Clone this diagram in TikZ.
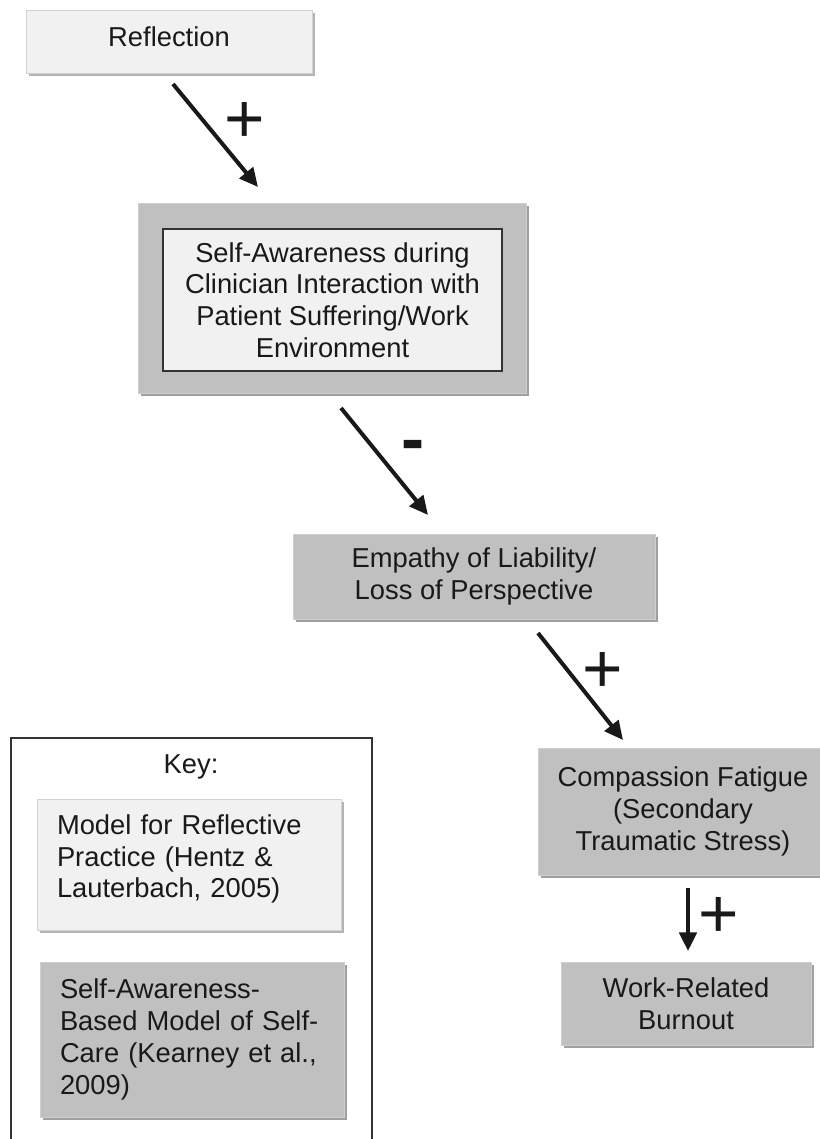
\documentclass[tikz,border=0pt]{standalone}
\usepackage{fontspec}
\setmainfont{Liberation Sans}
\usetikzlibrary{arrows.meta,shadows}
\definecolor{lightfill}{HTML}{F1F1F1}
\definecolor{darkfill}{HTML}{C0C0C0}
\definecolor{lightedge}{HTML}{D2D2D2}
\definecolor{darkedge}{HTML}{CECECE}
\definecolor{lightshadow}{HTML}{B4B4B4}
\definecolor{darkshadow}{HTML}{A0A0A0}
\definecolor{keyline}{HTML}{333333}
\begin{document}
\begin{tikzpicture}[x=0.75pt,y=-0.75pt,
  txt/.style={font=\fontsize{20.5}{23.8}\selectfont, align=center, inner sep=0pt, text=black!90},
  lightbox/.style={txt, draw=lightedge, line width=0.6pt, fill=lightfill,
    drop shadow={shadow xshift=2.25pt, shadow yshift=-2.25pt, fill=lightshadow, opacity=1}},
  darkbox/.style={txt, draw=darkedge, line width=0.6pt, fill=darkfill,
    drop shadow={shadow xshift=2.25pt, shadow yshift=-2.25pt, fill=darkshadow, opacity=1}},
  innerbox/.style={txt, draw=black!80, line width=0.8pt, fill=lightfill},
  keytext/.style={align=left, text width=198pt, inner xsep=15pt, inner ysep=0pt},
  sign/.style={font=\fontsize{52}{52}\selectfont, inner sep=0pt, text=black!90},
  conn/.style={line width=3pt, draw=black!90, -{Triangle[length=14pt,width=13pt]}}
]
\fill[white] (0,0) rectangle (820,1139);
\clip (0,0) rectangle (820,1139);

% main chain
\node[lightbox, minimum width=214.5pt, minimum height=47.25pt, text depth=8pt] (refl) at (169,41.5) {Reflection};
\node[darkbox, minimum width=291pt, minimum height=142.5pt] (saout) at (332,298) {};
\node[innerbox, minimum width=254.25pt, minimum height=106.5pt] (sa) at (332.5,300)
  {Self-Awareness during\\Clinician Interaction with\\Patient Suffering/Work\\Environment};
\node[darkbox, minimum width=271.5pt, minimum height=63.75pt] (emp) at (474,576.5)
  {Empathy of Liability/\\Loss of Perspective};
\node[darkbox, minimum width=217.5pt, minimum height=95.25pt] (cf) at (683,811.5)
  {Compassion Fatigue\\(Secondary\\Traumatic Stress)};
\node[darkbox, minimum width=187.5pt, minimum height=62.25pt] (wrb) at (686,1003.5)
  {Work-Related\\Burnout};

% connectors
\coordinate (a1s) at (173,84);  \coordinate (a1e) at (258,187);
\coordinate (a2s) at (341,408); \coordinate (a2e) at (428,515);
\coordinate (a3s) at (538,633); \coordinate (a3e) at (623,740);
\coordinate (a4s) at (688,888); \coordinate (a4e) at (688,951);
\draw[conn] (a1s) -- (a1e);
\draw[conn] (a2s) -- (a2e);
\draw[conn] (a3s) -- (a3e);
\draw[conn] (a4s) -- (a4e);
\node[sign] (p1) at (245,122) {+};
\node[sign] (m2) at (413,451) {\textbf{-}};
\node[sign] (p3) at (603,672) {+};
\node[sign] (p4) at (719,917) {+};

% key
\node[draw=keyline, line width=1.2pt, minimum width=270.75pt, minimum height=309pt, inner sep=0pt] (keyframe) at (191.5,944) {};
\node[txt] (key) at (191,767) {Key:};
\node[lightbox, keytext, minimum height=98.25pt] (kmodel) at (189,864.5)
  {Model for Reflective\\Practice (Hentz \&\\Lauterbach, 2005)\rule[-12.5pt]{0pt}{12.5pt}};
\node[darkbox, keytext, minimum height=116.25pt] (ksab) at (192,1039.5)
  {Self-Awareness-\\Based Model of Self-\\Care (Kearney et al.,\\2009)};
\end{tikzpicture}
\end{document}
